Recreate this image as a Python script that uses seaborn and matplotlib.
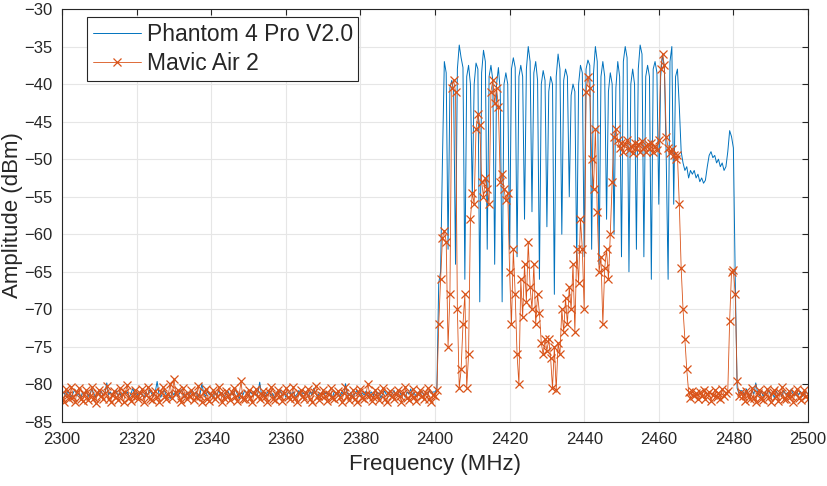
import numpy as np
import pandas as pd
import matplotlib
matplotlib.use("Agg")
import matplotlib.pyplot as plt
import seaborn as sns

# spectrum readings, 0.5 MHz between samples
STEP = 0.5
LOW_START = 2300.0
BAND_START = 2400.0
HIGH_START = 2482.5

# Phantom 4 Pro V2.0 (dBm)
phantom_low = [
    -81.4, -81.0, -81.6, -80.9, -81.3, -81.8, -81.1, -80.7, -81.5, -81.2,
    -81.9, -81.0, -81.4, -80.8, -81.6, -81.3, -80.6, -81.2, -81.7, -81.0,
    -81.3, -80.9, -81.5, -81.1, -79.8, -81.4, -81.0, -81.6, -81.2, -80.8,
    -81.5, -81.1, -81.8, -80.9, -81.3, -81.0, -81.7, -81.2, -80.5, -81.4,
    -81.1, -81.6, -80.9, -81.3, -81.8, -81.0, -81.4, -80.7, -81.2, -81.5,
    -81.0, -79.6, -81.3, -81.7, -81.1, -80.8, -81.5, -81.2, -81.9, -81.0,
    -81.4, -80.9, -81.6, -81.2, -80.7, -81.3, -81.8, -81.0, -81.5, -81.1,
    -80.8, -81.4, -81.0, -81.7, -81.3, -79.9, -81.2, -81.6, -80.9, -81.4,
    -81.2, -81.8, -81.0, -81.5, -80.8, -81.3, -81.1, -81.7, -81.2, -80.9,
    -81.5, -81.0, -81.4, -80.6, -81.3, -81.9, -81.1, -81.4, -80.8, -81.2,
    -81.6, -81.0, -81.3, -80.9, -81.5, -81.2, -79.7, -81.4, -81.0, -81.6,
    -81.1, -80.8, -81.5, -81.2, -81.8, -81.0, -81.3, -80.7, -81.4, -81.1,
    -81.7, -81.2, -80.9, -81.4, -81.0, -81.6, -81.3, -80.8, -81.5, -81.1,
    -81.3, -80.9, -81.6, -81.0, -81.4, -80.5, -81.2, -81.7, -81.1, -81.4,
    -80.8, -81.3, -81.0, -81.5, -81.2, -81.8, -80.9, -81.4, -81.1, -81.6,
    -81.0, -81.4, -79.9, -81.2, -81.5, -81.0, -81.7, -81.3, -80.8, -81.2,
    -81.5, -81.1, -81.4, -80.9, -81.6, -81.2, -81.0, -81.5, -80.7, -81.3,
    -81.1, -81.8, -81.2, -80.9, -81.4, -81.0, -81.6, -81.3, -80.8, -81.5,
    -81.2, -80.9, -81.5, -81.1, -81.7, -81.0, -81.3, -80.6, -81.4, -81.2,
    -81.6, -81.0, -81.3, -80.9, -81.5, -81.1, -81.4, -80.8, -81.2, -81.0,
]
phantom_band = [
    -81.0, -80.6, -66.5, -65.0, -50.0, -37.0, -38.5, -62.0, -40.5, -39.5,
    -41.0, -64.0, -38.0, -34.8, -36.5, -37.8, -66.0, -39.0, -37.5, -40.0,
    -55.0, -40.0, -37.2, -38.0, -69.0, -38.5, -35.5, -37.0, -62.0, -39.0,
    -37.5, -39.5, -64.0, -40.0, -37.8, -41.0, -69.0, -40.0, -38.5, -40.0,
    -62.0, -38.0, -36.5, -37.8, -63.0, -39.0, -37.5, -39.0, -58.0, -38.0,
    -35.0, -37.0, -57.0, -38.5, -37.0, -39.5, -66.0, -40.0, -38.2, -39.5,
    -59.0, -41.0, -39.0, -40.0, -68.0, -39.0, -36.0, -38.0, -60.0, -39.5,
    -38.0, -39.0, -55.0, -41.5, -40.0, -41.0, -64.0, -40.0, -37.5, -38.5,
    -63.0, -38.0, -36.8, -37.5, -62.0, -38.5, -35.0, -37.0, -64.0, -39.0,
    -37.0, -39.0, -58.0, -41.0, -38.5, -40.0, -60.0, -40.5, -37.0, -39.0,
    -63.0, -37.0, -35.0, -36.5, -65.0, -40.0, -38.0, -40.0, -62.0, -38.0,
    -34.8, -36.0, -63.0, -39.0, -37.5, -39.0, -66.0, -38.0, -37.0, -38.5,
    -56.0, -39.0, -36.0, -38.0, -50.0, -66.0, -37.0, -35.0, -56.0, -39.0,
    -38.0, -43.0, -49.0, -50.5, -51.5, -51.0, -52.5, -51.5, -52.0, -51.5,
    -52.5, -52.0, -53.0, -52.5, -53.2, -52.8, -51.0, -49.5, -49.0, -49.8,
    -49.5, -50.5, -50.0, -51.0, -50.5, -51.5, -51.0, -49.0, -46.2, -47.0,
    -48.5, -66.0, -80.5, -81.2, -80.8,
]
phantom_high = [
    -80.9, -81.4, -80.6, -81.2, -81.7, -80.8, -81.3, -79.8, -81.1, -81.5,
    -80.9, -81.6, -81.0, -81.3, -80.7, -81.5, -81.2, -81.8, -80.9, -81.4,
    -81.0, -81.6, -80.8, -81.3, -81.1, -81.7, -80.6, -81.2, -81.5, -81.0,
    -81.4, -80.9, -81.6, -81.2, -81.0, -81.3,
]

# Mavic Air 2 (dBm)
mavic_low = [
    -81.8, -82.3, -80.6, -81.4, -82.0, -80.3, -81.7, -82.4, -81.0, -80.5,
    -81.9, -82.2, -81.3, -80.8, -82.1, -81.5, -80.4, -81.8, -82.5, -81.1,
    -80.7, -81.6, -82.0, -81.2, -80.2, -81.9, -82.3, -81.4, -80.9, -81.7,
    -82.1, -80.5, -81.3, -82.4, -81.0, -80.1, -81.8, -82.2, -81.5, -80.8,
    -81.6, -82.0, -81.1, -80.6, -82.3, -81.4, -80.3, -81.9, -82.1, -81.2,
    -80.9, -81.7, -82.4, -81.0, -80.4, -81.5, -82.0, -81.3, -79.9, -81.8,
    -79.3, -81.1, -80.7, -81.9, -82.3, -80.5, -81.4, -82.0, -81.6, -80.8,
    -81.3, -82.1, -81.7, -80.2, -81.5, -82.4, -81.0, -80.6, -81.9, -82.2,
    -81.4, -80.8, -82.0, -81.6, -80.4, -81.2, -82.3, -81.8, -80.9, -81.5,
    -82.1, -81.0, -80.5, -81.7, -82.2, -81.3, -79.6, -81.9, -82.0, -81.1,
    -80.7, -81.8, -82.4, -81.2, -80.6, -81.5, -82.0, -81.4, -80.9, -81.7,
    -82.3, -81.0, -80.4, -81.9, -82.1, -81.3, -80.8, -81.6, -82.2, -81.1,
    -80.5, -81.7, -82.0, -81.4, -80.3, -81.8, -82.4, -81.2, -80.7, -81.5,
    -82.0, -81.1, -80.6, -81.9, -82.3, -81.0, -80.2, -81.6, -82.1, -81.4,
    -80.8, -81.5, -82.2, -81.3, -80.5, -81.8, -82.0, -81.1, -80.9, -81.7,
    -82.4, -81.2, -80.4, -81.6, -82.1, -81.5, -80.7, -81.9, -82.3, -81.0,
    -80.6, -81.8, -82.0, -81.3, -79.9, -81.4, -82.2, -81.7, -80.8, -81.5,
    -82.1, -81.0, -80.5, -81.9, -82.4, -81.2, -80.9, -81.6, -82.0, -81.3,
    -80.7, -81.5, -82.3, -81.1, -80.3, -81.8, -82.1, -81.4, -80.6, -81.7,
    -82.2, -81.3, -80.8, -81.6, -82.0, -81.1, -80.5, -81.9, -82.3, -81.4,
]
mavic_band = [
    -81.5, -80.8, -72.0, -66.0, -60.5, -59.5, -61.0, -75.0, -68.0, -40.5,
    -39.5, -41.0, -70.0, -80.5, -78.0, -72.0, -68.0, -80.5, -76.0, -58.0,
    -54.5, -56.0, -46.0, -44.0, -45.5, -53.0, -55.0, -52.5, -54.0, -56.0,
    -41.0, -39.5, -42.5, -40.5, -43.0, -53.0, -52.0, -54.0, -55.5, -54.5,
    -65.0, -72.0, -62.0, -68.0, -76.0, -80.0, -66.0, -71.0, -64.0, -69.0,
    -61.0, -67.0, -70.0, -64.0, -72.0, -68.0, -70.5, -74.5, -76.0, -74.0,
    -75.5, -74.0, -76.5, -80.5, -75.0, -80.8, -74.5, -76.0, -70.0, -73.0,
    -68.5, -72.0, -67.0, -70.0, -64.0, -73.0, -62.0, -66.5, -58.0, -62.0,
    -70.0, -41.0, -39.0, -40.5, -50.0, -54.0, -46.0, -57.0, -65.0, -63.0,
    -72.0, -64.5, -62.0, -66.0, -60.0, -53.0, -47.0, -46.0, -47.5, -48.5,
    -47.8, -49.0, -48.0, -47.5, -48.8, -48.2, -49.2, -47.8, -48.5, -48.0,
    -49.0, -47.6, -48.4, -49.1, -48.0, -48.7, -47.9, -49.0, -48.3, -48.8,
    -47.5, -38.0, -36.0, -37.5, -47.0, -48.5, -49.2, -48.6, -49.5, -50.0,
    -49.5, -56.0, -64.5, -70.0, -74.0, -78.0, -81.0, -81.8, -80.9, -81.5,
    -81.2, -82.0, -81.0, -81.6, -80.7, -81.9, -81.3, -81.0, -82.2, -81.4,
    -80.8, -81.7, -81.2, -81.9, -80.6, -81.5, -81.1, -80.9, -71.5, -65.0,
    -64.8, -68.0, -79.5, -81.5, -81.0,
]
mavic_high = [
    -81.6, -82.2, -80.9, -81.4, -82.0, -80.5, -81.8, -82.3, -81.1, -80.7,
    -81.9, -82.1, -81.3, -80.6, -81.7, -82.4, -81.0, -80.8, -81.5, -82.2,
    -81.2, -80.4, -81.9, -82.0, -81.4, -80.9, -81.6, -82.3, -81.1, -80.6,
    -81.8, -82.1, -81.3, -80.8, -81.5, -82.0,
]


def make_frame(low, band, high, name):
    parts = []
    for start, vals in [(LOW_START, low), (BAND_START, band), (HIGH_START, high)]:
        f = start + STEP * np.arange(len(vals))
        parts.append(pd.DataFrame({"freq": f, "amp": vals}))
    df = pd.concat(parts, ignore_index=True)
    df["device"] = name
    return df


phantom = make_frame(phantom_low, phantom_band, phantom_high, "Phantom 4 Pro V2.0")
mavic = make_frame(mavic_low, mavic_band, mavic_high, "Mavic Air 2")

sns.set_style("white")
plt.rcParams["font.family"] = ["Liberation Sans", "DejaVu Sans"]
dark = "#262626"

fig, ax = plt.subplots(figsize=(8.27, 4.86), dpi=100)
fig.subplots_adjust(left=0.075, right=0.977, top=0.9815, bottom=0.1317)

sns.lineplot(data=phantom, x="freq", y="amp", color="#0072BD", lw=0.7,
             estimator=None, sort=False, label="Phantom 4 Pro V2.0", ax=ax)
sns.lineplot(data=mavic, x="freq", y="amp", color="#D95319", lw=0.6,
             marker="x", markersize=6, markeredgewidth=0.9, markeredgecolor="#D95319",
             estimator=None, sort=False, label="Mavic Air 2", ax=ax)

ax.set_xlim(2300, 2500)
ax.set_ylim(-85, -30)
ax.set_xticks(np.arange(2300, 2501, 20))
ax.set_yticks(np.arange(-85, -29, 5))
ax.grid(True, color="#e6e6e6", lw=0.8)
ax.set_axisbelow(True)
ax.tick_params(direction="in", top=True, right=True, length=4, width=0.8,
               color=dark, labelcolor=dark, labelsize=12, pad=7)
for s in ax.spines.values():
    s.set_visible(True)
    s.set_color(dark)
    s.set_linewidth(0.8)

ax.set_xlabel("Frequency (MHz)", fontsize=16, color=dark, labelpad=5)
ax.set_ylabel("Amplitude (dBm)", fontsize=16, color=dark, labelpad=1)

leg = ax.legend(loc="upper left", bbox_to_anchor=(0.0335, 0.981), borderaxespad=0,
                fancybox=False, framealpha=1, edgecolor=dark, fontsize=16.5,
                handlelength=2.1, handletextpad=0.25, borderpad=0.25, labelspacing=0.3)
leg.get_frame().set_linewidth(0.8)

fig.savefig("out.png", dpi=100)
